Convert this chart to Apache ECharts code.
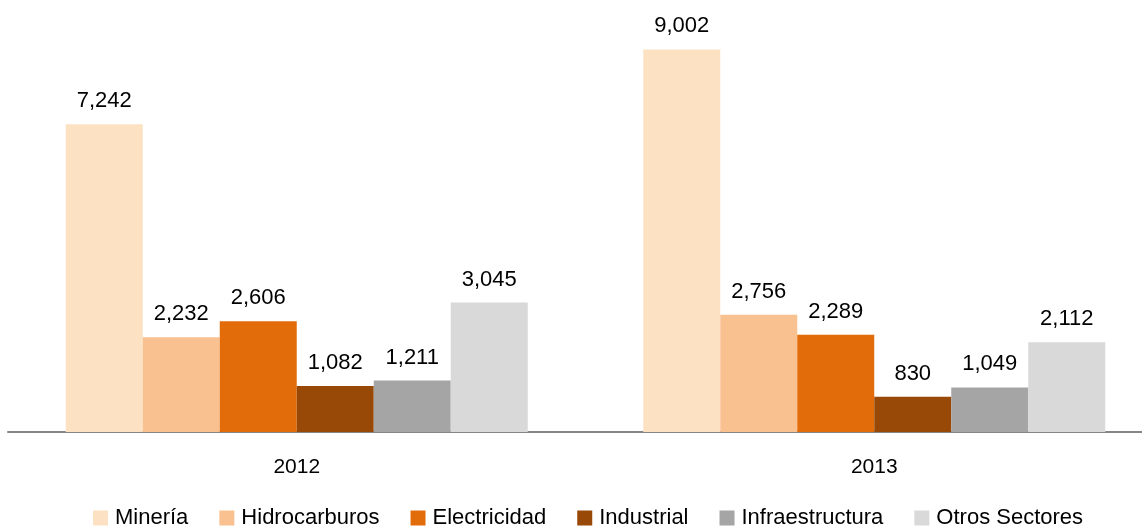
<!DOCTYPE html>
<html>
<head>
<meta charset="utf-8">
<script src="https://cdn.jsdelivr.net/npm/echarts@6/dist/echarts.min.js"></script>
<style>
  html, body { margin: 0; padding: 0; background: #fff; }
  #chart { width: 1142px; height: 527px; }
</style>
</head>
<body>
<div id="chart"></div>
<script>
// years on the x axis
const years = ["2012", "2013"];

// one array per sector
const mineria = [7242, 9002];
const hidrocarburos = [2232, 2756];
const electricidad = [2606, 2289];
const industrial = [1082, 830];
const infraestructura = [1211, 1049];
const otrosSectores = [3045, 2112];

const sectorNames = ["Minería", "Hidrocarburos", "Electricidad", "Industrial", "Infraestructura", "Otros Sectores"];
const sectorValues = [mineria, hidrocarburos, electricidad, industrial, infraestructura, otrosSectores];
const sectorColors = ["#FDE1C3", "#F9C090", "#E36C0A", "#984807", "#A5A5A5", "#D9D9D9"];

const font = "Liberation Sans, Arial, sans-serif";

const chart = echarts.init(document.getElementById("chart"));

const series = sectorNames.map((name, i) => ({
  name: name,
  type: "bar",
  data: sectorValues[i],
  barGap: "0%",
  barCategoryGap: "20%",
  itemStyle: { color: sectorColors[i] },
  label: {
    show: true,
    position: "top",
    distance: 12,
    color: "#000",
    fontFamily: font,
    fontSize: 22,
    formatter: (p) => p.value.toLocaleString("en-US"),
  },
}));

chart.setOption({
  animation: false,
  grid: {
    left: 8,
    right: -21,
    top: 7,
    bottom: 95,
    outerBoundsMode: "none",
    containLabel: false,
  },
  legend: {
    data: sectorNames,
    left: 88,
    top: 502,
    itemWidth: 15,
    itemHeight: 15,
    itemGap: 31,
    icon: "rect",
    textStyle: {
      fontFamily: font,
      fontSize: 22,
      color: "#000",
      padding: [0, 0, 0, 2],
    },
  },
  xAxis: {
    type: "category",
    data: years,
    axisLine: { lineStyle: { color: "#868686", width: 2 } },
    axisTick: { show: false },
    axisLabel: {
      margin: 25,
      color: "#000",
      fontFamily: font,
      fontSize: 21,
    },
  },
  yAxis: {
    type: "value",
    min: 0,
    max: 10000,
    show: false,
    splitLine: { show: false },
  },
  series: series,
});
</script>
</body>
</html>
